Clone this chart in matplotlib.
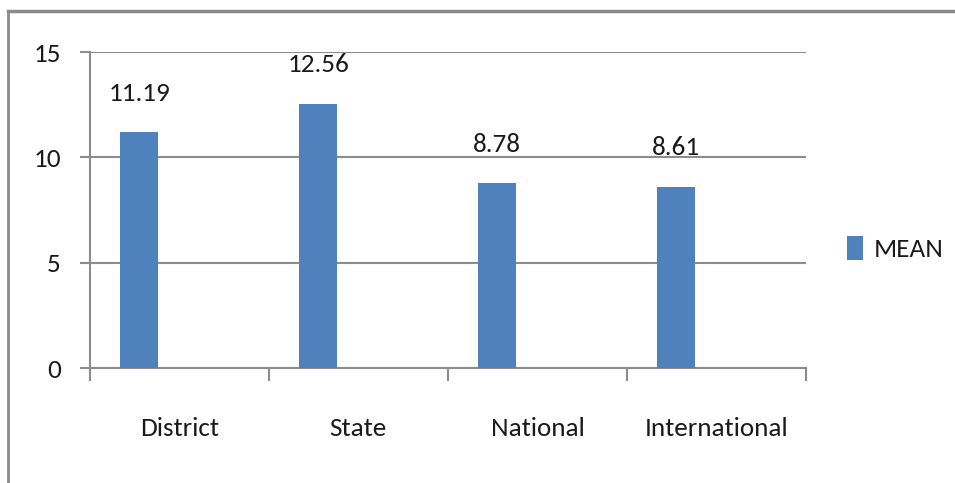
import matplotlib
matplotlib.use("Agg")
import matplotlib.pyplot as plt
from matplotlib.lines import Line2D
import numpy as np

categories = ["District", "State", "National", "International"]
mean_values = [11.19, 12.56, 8.78, 8.61]
y_ticks = [0, 5, 10, 15]
series_name = "MEAN"

BAR_COLOR = "#4F81BD"
GRID_COLOR = "#8C8C8C"
TEXT_COLOR = "#1A1A1A"
FONT = ["Carlito", "DejaVu Sans"]
FS = 19.5

plt.rcParams["font.family"] = FONT

fig = plt.figure(figsize=(9.55, 4.83), dpi=100)
ax = fig.add_axes([0.0942, 0.238, 0.7497, 0.654])

x = np.arange(len(categories))
# excel-style clustered slot: the bar sits in the left part of each category
bars = ax.bar(x - 0.225, mean_values, width=0.213, color=BAR_COLOR, label=series_name, zorder=3)

for rect, v in zip(bars, mean_values):
    ax.annotate(f"{v:.2f}", (rect.get_x() + rect.get_width() / 2, v),
                xytext=(0, 28), textcoords="offset points",
                ha="center", va="center", fontsize=FS, color=TEXT_COLOR)

ax.set_xlim(-0.5, len(categories) - 0.5)
ax.set_ylim(0, 15)
ax.set_yticks(y_ticks)
ax.set_yticklabels([str(t) for t in y_ticks], fontsize=FS, color=TEXT_COLOR)
ax.set_xticks(x)
ax.set_xticklabels(categories, fontsize=FS, color=TEXT_COLOR)
ax.tick_params(axis="x", length=0, pad=35)
ax.set_xticks(np.arange(len(categories) + 1) - 0.5, minor=True)
ax.tick_params(axis="x", which="minor", length=9, width=1.5, color=GRID_COLOR, direction="out")
ax.tick_params(axis="y", length=7, width=1.5, color=GRID_COLOR, pad=14)

ax.yaxis.grid(True, color=GRID_COLOR, linewidth=1.5, zorder=0)
for side in ["top", "right"]:
    ax.spines[side].set_visible(False)
for side in ["left", "bottom"]:
    ax.spines[side].set_color(GRID_COLOR)
    ax.spines[side].set_linewidth(1.5)

leg = fig.legend(handles=[bars], labels=[series_name], loc="center left",
                 bbox_to_anchor=(0.887, 0.486), frameon=False, fontsize=FS,
                 handlelength=0.58, handleheight=1.0, handletextpad=0.4,
                 borderaxespad=0, borderpad=0)
for t in leg.get_texts():
    t.set_color(TEXT_COLOR)

# chart area border (top and left edges visible)
fig.add_artist(Line2D([0.008, 1.0], [0.977, 0.977], transform=fig.transFigure,
                      color="#8A8A8A", linewidth=2.5))
fig.add_artist(Line2D([0.008, 0.008], [0.0, 0.977], transform=fig.transFigure,
                      color="#8A8A8A", linewidth=2))

fig.savefig("out.png", dpi=100)
